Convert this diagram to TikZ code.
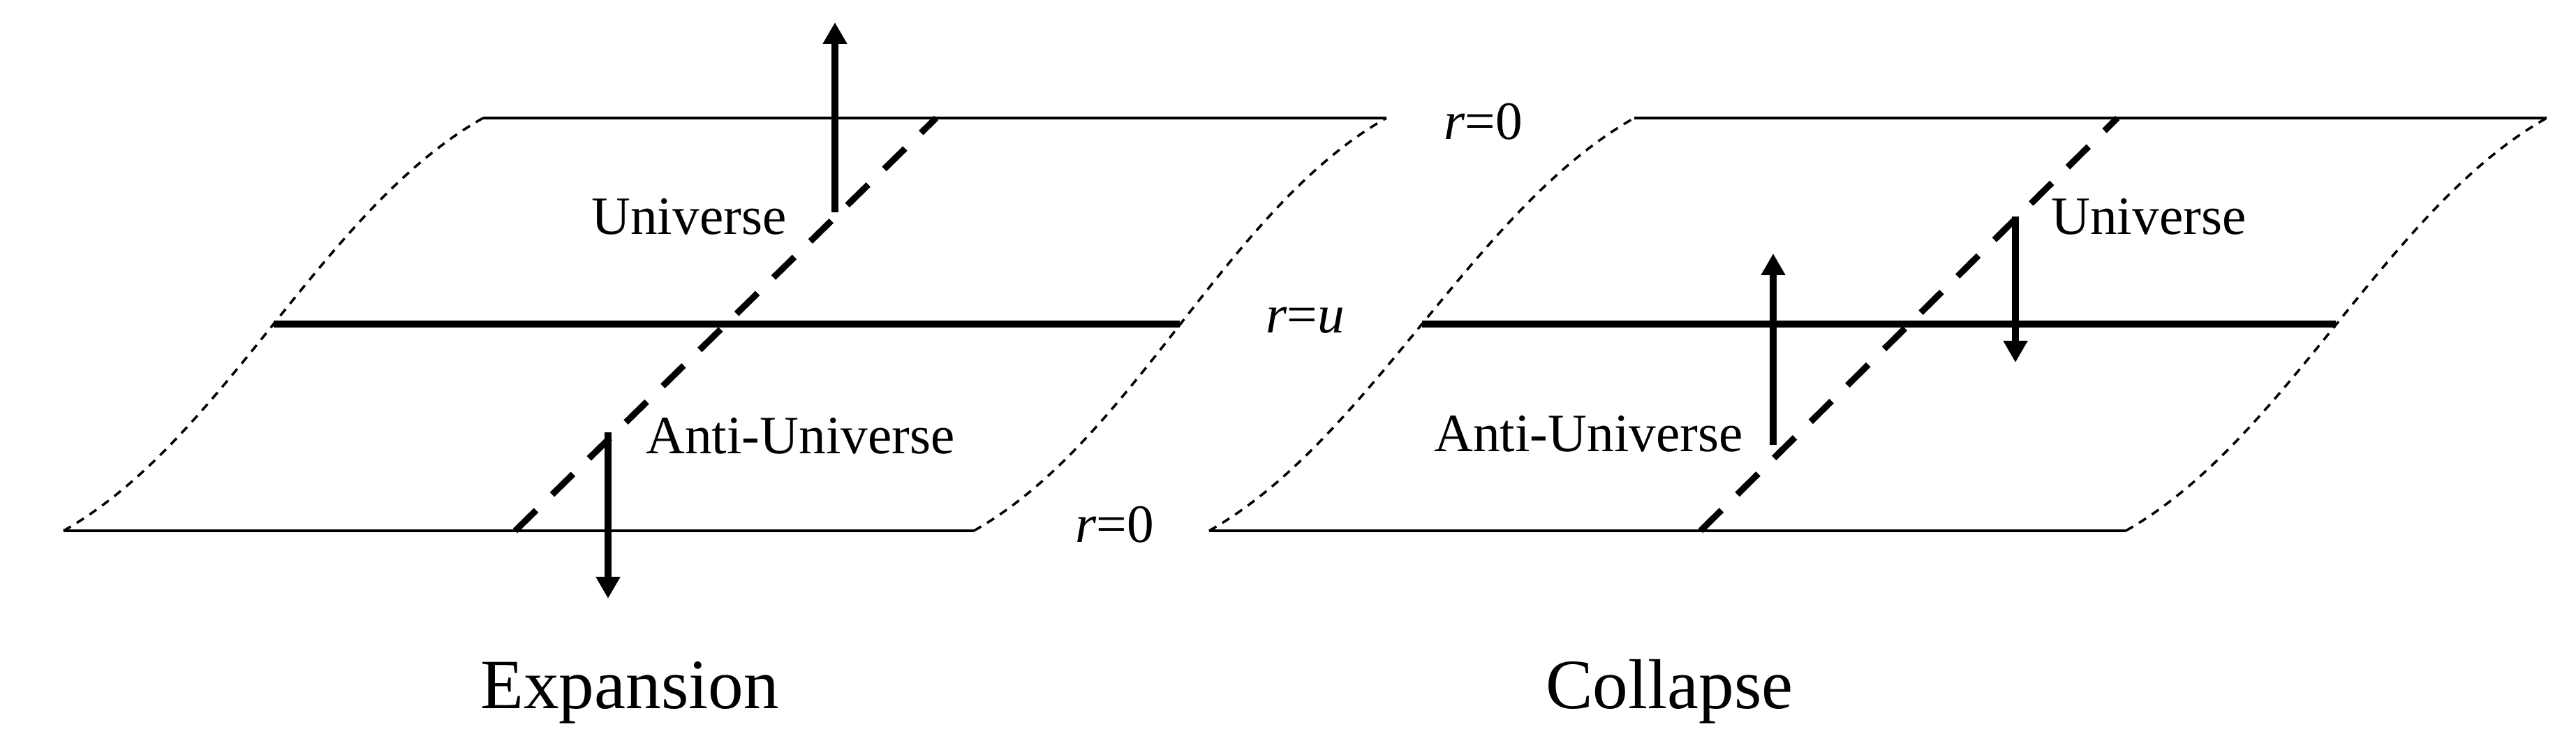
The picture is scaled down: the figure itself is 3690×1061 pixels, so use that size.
\documentclass[tikz,border=0pt]{standalone}
\usepackage{fontspec}
\setmainfont{Liberation Serif}
\usetikzlibrary{arrows.meta}

\begin{document}
\begin{tikzpicture}[x=0.05mm,y=-0.05mm,
 every node/.style={font=\fontsize{11pt}{13pt}\selectfont,inner sep=0pt,anchor=base west},
 plane/.style={line width=0.7pt},
 midplane/.style={line width=1.3pt},
 edge/.style={line width=0.5pt,dash pattern=on 0.6mm off 0.5mm},
 wline/.style={line width=1.3pt,dash pattern=on 2.1mm off 1.6mm},
 flow/.style={line width=1.5pt,-{Triangle[length=1.55mm,width=1.65mm]}},
 title/.style={font=\fontsize{14.4pt}{17pt}\selectfont}]
\useasboundingbox (0,0) rectangle (3690,1061);
% expansion sheet
\coordinate (eb1) at (91,760);   \coordinate (eb2) at (1395,760);
\coordinate (em1) at (392,464);  \coordinate (em2) at (1690,464);
\coordinate (et1) at (692,169);  \coordinate (et2) at (1986,169);
\draw[plane] (et1)--(et2); \draw[plane] (eb1)--(eb2); \draw[midplane] (em1)--(em2);
\draw[edge] (eb1) .. controls +(230,-130) and +(-230,130) .. (et1);
\draw[edge] (eb2) .. controls +(230,-130) and +(-230,130) .. (et2);
\coordinate (ew1) at (738,760); \coordinate (ew2) at (1341,169);
\draw[wline] (ew1)--(ew2);
\coordinate (eu0) at (1196,304); \coordinate (eu1) at (1196,32);
\coordinate (ea0) at (871,619);  \coordinate (ea1) at (871,857);
\draw[flow] (eu0)--(eu1); \draw[flow] (ea0)--(ea1);
\node (euni) at (846,336) {Universe};
\node (eanti) at (924,650) {Anti-Universe};
% collapse sheet
\coordinate (cb1) at (1732,760); \coordinate (cb2) at (3045,760);
\coordinate (cm1) at (2037,464); \coordinate (cm2) at (3346,464);
\coordinate (ct1) at (2341,169); \coordinate (ct2) at (3648,169);
\draw[plane] (ct1)--(ct2); \draw[plane] (cb1)--(cb2); \draw[midplane] (cm1)--(cm2);
\draw[edge] (cb1) .. controls +(230,-130) and +(-230,130) .. (ct1);
\draw[edge] (cb2) .. controls +(230,-130) and +(-230,130) .. (ct2);
\coordinate (cw1) at (2436,760); \coordinate (cw2) at (3033,169);
\draw[wline] (cw1)--(cw2);
\coordinate (ca0) at (2540,637); \coordinate (ca1) at (2540,363);
\coordinate (cu0) at (2887,310); \coordinate (cu1) at (2887,519);
\draw[flow] (ca0)--(ca1); \draw[flow] (cu0)--(cu1);
\node (cuni) at (2937,336) {Universe};
\node (canti) at (2053,647) {Anti-Universe};
% radii
\node (rtop) at (2067,200) {\textit{r}=0};
\node (rmid) at (1812,477) {\textit{r}=\textit{u}};
\node (rbot) at (1539,777) {\textit{r}=0};
\node[title] (exp) at (687,1015) {Expansion};
\node[title] (col) at (2213,1015) {Collapse};
\end{tikzpicture}
\end{document}
